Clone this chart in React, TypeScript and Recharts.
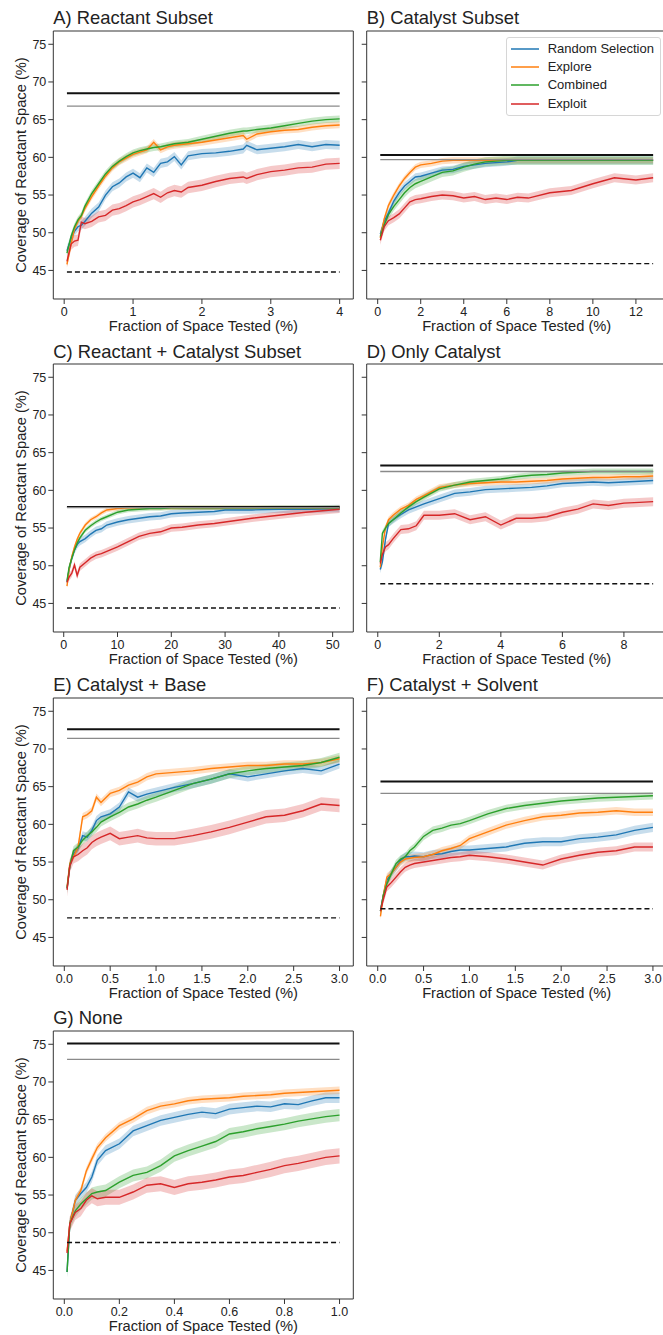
import React from "react";
import {
  ComposedChart,
  Line,
  Area,
  XAxis,
  YAxis,
  ReferenceLine,
  ReferenceArea,
  Legend,
} from "recharts";

const FONT = '"Liberation Sans", Arial, Helvetica, sans-serif';
const TEXT = "#222";

const seriesNames = ["Random Selection", "Explore", "Combined", "Exploit"];
const seriesColors = ["#1f77b4", "#ff7f0e", "#2ca02c", "#d62728"];

const yTicks = [45, 50, 55, 60, 65, 70, 75];
const yDomain: [number, number] = [41.21, 76.76];

// A) Reactant Subset
const xA = [0.04, 0.1, 0.15, 0.2, 0.25, 0.3, 0.4, 0.5, 0.6, 0.7, 0.8, 0.9, 1.0, 1.1, 1.2, 1.3, 1.4, 1.5, 1.6, 1.7, 1.8, 2.0, 2.2, 2.4, 2.6, 2.65, 2.8, 3.0, 3.2, 3.4, 3.6, 3.8, 4.0];
const randomA = [47.6, 49.2, 50.2, 50.8, 51.0, 51.5, 52.6, 53.4, 55.0, 56.1, 56.6, 57.4, 57.9, 57.3, 58.6, 58.0, 59.2, 59.4, 60.1, 59.0, 60.2, 60.5, 60.6, 60.8, 61.1, 61.6, 61.0, 61.2, 61.4, 61.7, 61.4, 61.7, 61.6];
const exploreA = [45.8, 48.5, 50.5, 51.5, 52.2, 53.2, 54.8, 56.2, 57.5, 58.6, 59.4, 59.9, 60.4, 60.7, 61.0, 62.0, 61.0, 61.4, 61.6, 61.7, 61.8, 62.0, 62.3, 62.6, 62.9, 62.4, 63.1, 63.4, 63.6, 63.7, 64.0, 64.2, 64.3];
const combinedA = [47.3, 49.5, 50.8, 51.7, 52.3, 53.5, 55.2, 56.5, 57.8, 58.8, 59.5, 60.1, 60.6, 60.9, 61.1, 61.3, 61.4, 61.6, 61.8, 61.9, 62.0, 62.4, 62.8, 63.2, 63.5, 63.5, 63.7, 63.9, 64.2, 64.5, 64.8, 65.0, 65.1];
const exploitA = [46.2, 48.5, 48.9, 49.0, 51.4, 51.2, 51.5, 52.1, 52.3, 53.0, 53.2, 53.6, 54.1, 54.4, 54.8, 55.2, 54.7, 55.3, 55.6, 55.4, 56.0, 56.3, 56.8, 57.2, 57.4, 57.2, 57.7, 58.1, 58.3, 58.6, 58.7, 59.1, 59.2];
const bandA = [0.6, 0.45, 0.45, 0.75];
const refA = [68.5, 66.8, 44.8];

// B) Catalyst Subset
const xB = [0.12, 0.3, 0.5, 0.75, 1, 1.25, 1.5, 1.75, 2, 2.5, 3, 3.5, 4, 4.5, 5, 5.5, 6, 6.5, 7, 8, 9, 10, 11, 12, 12.8];
const randomB = [49.8, 51.5, 52.6, 54.2, 55.3, 56.2, 56.8, 57.4, 57.5, 57.9, 58.3, 58.4, 58.8, 59.0, 59.2, 59.3, 59.4, 59.6, 59.6, 59.6, 59.6, 59.6, 59.6, 59.6, 59.6];
const exploreB = [49.3, 51.8, 53.6, 55.0, 56.2, 57.2, 58.0, 58.7, 59.0, 59.2, 59.5, 59.6, 59.6, 59.6, 59.6, 59.6, 59.6, 59.6, 59.6, 59.6, 59.6, 59.6, 59.6, 59.6, 59.6];
const combinedB = [49.5, 51.0, 52.4, 53.5, 54.4, 55.3, 56.0, 56.5, 56.8, 57.4, 58.0, 58.2, 58.7, 59.1, 59.4, 59.5, 59.6, 59.6, 59.6, 59.6, 59.6, 59.6, 59.6, 59.6, 59.6];
const exploitB = [49.0, 50.8, 51.6, 52.0, 52.5, 53.3, 54.1, 54.4, 54.5, 54.8, 55.0, 54.9, 54.6, 54.8, 54.4, 54.6, 54.4, 54.7, 54.6, 55.3, 55.6, 56.5, 57.3, 57.0, 57.3];
const bandB = [0.5, 0.4, 0.6, 0.6];
const refB = [60.3, 59.7, 45.9];

// C) Reactant + Catalyst Subset
const xC = [0.6, 1, 1.5, 2, 2.5, 3, 4, 5, 6, 7, 8, 10, 12, 14, 16, 18, 20, 22, 25, 28, 30, 35, 40, 45, 51.3];
const randomC = [47.8, 49.5, 51.0, 52.1, 52.8, 53.2, 53.6, 54.2, 54.7, 54.9, 55.4, 55.8, 56.1, 56.3, 56.5, 56.6, 56.9, 57.0, 57.1, 57.2, 57.4, 57.4, 57.5, 57.5, 57.6];
const exploreC = [47.3, 49.5, 51.2, 52.5, 53.5, 54.3, 55.4, 56.1, 56.5, 57.0, 57.4, 57.6, 57.7, 57.7, 57.7, 57.7, 57.7, 57.7, 57.7, 57.7, 57.7, 57.7, 57.7, 57.7, 57.7];
const combinedC = [48.0, 49.8, 51.0, 52.1, 53.0, 53.7, 54.7, 55.3, 55.8, 56.2, 56.5, 57.1, 57.4, 57.5, 57.6, 57.6, 57.7, 57.7, 57.7, 57.7, 57.7, 57.7, 57.7, 57.7, 57.7];
const exploitC = [47.8, 48.5, 49.0, 50.1, 48.7, 49.8, 50.4, 51.0, 51.4, 51.6, 51.9, 52.5, 53.2, 53.9, 54.3, 54.5, 55.0, 55.1, 55.4, 55.6, 55.8, 56.3, 56.7, 57.1, 57.5];
const bandC = [0.5, 0.3, 0.3, 0.5];
const refC = [57.8, 57.7, 44.4];

// D) Only Catalyst
const xD = [0.08, 0.15, 0.25, 0.35, 0.5, 0.75, 1, 1.25, 1.5, 2, 2.5, 3, 3.5, 4, 4.5, 5, 5.5, 6, 6.5, 7, 7.5, 8, 8.5, 8.95];
const randomD = [49.5, 50.5, 53.5, 55.6, 56.1, 56.8, 57.4, 57.8, 58.2, 58.9, 59.6, 59.8, 60.1, 60.2, 60.3, 60.4, 60.6, 60.9, 61.0, 61.1, 61.0, 61.1, 61.2, 61.3];
const exploreD = [49.8, 52.5, 55.0, 56.1, 56.7, 57.5, 58.0, 58.8, 59.3, 60.4, 60.7, 60.9, 61.0, 61.1, 61.1, 61.2, 61.3, 61.5, 61.6, 61.7, 61.7, 61.8, 61.8, 61.9];
const combinedD = [50.5, 54.3, 55.0, 55.6, 56.1, 57.0, 57.8, 58.5, 59.1, 60.2, 60.7, 61.1, 61.3, 61.5, 61.8, 62.0, 62.1, 62.3, 62.4, 62.5, 62.5, 62.5, 62.5, 62.5];
const exploitD = [50.3, 51.5, 52.5, 52.8, 53.6, 54.8, 54.9, 55.3, 56.7, 56.7, 56.9, 56.1, 56.5, 55.4, 56.3, 56.3, 56.5, 57.1, 57.5, 58.2, 58.0, 58.3, 58.4, 58.5];
const bandD = [0.5, 0.4, 0.4, 0.6];
const refD = [63.3, 62.5, 47.6];

// E) Catalyst + Base
const xE = [0.03, 0.06, 0.1, 0.15, 0.2, 0.25, 0.3, 0.35, 0.4, 0.5, 0.6, 0.7, 0.8, 0.9, 1.0, 1.2, 1.4, 1.6, 1.8, 2.0, 2.2, 2.4, 2.6, 2.8, 3.0];
const randomE = [51.5, 54.5, 56.1, 56.8, 58.5, 58.3, 59.2, 60.5, 61.0, 61.4, 62.3, 64.3, 63.6, 64.0, 64.3, 64.9, 65.4, 66.0, 66.7, 66.3, 66.7, 67.1, 67.4, 67.1, 68.0];
const exploreE = [51.7, 54.8, 55.7, 57.0, 61.0, 61.3, 61.8, 63.6, 62.9, 64.1, 64.5, 65.2, 65.6, 66.3, 66.7, 66.9, 67.1, 67.4, 67.6, 67.8, 67.8, 68.0, 68.0, 68.2, 68.7];
const combinedE = [51.5, 54.5, 56.5, 57.0, 57.9, 58.5, 59.0, 59.6, 60.3, 61.0, 61.6, 62.3, 62.7, 63.2, 63.6, 64.5, 65.4, 66.0, 66.7, 67.1, 67.4, 67.6, 67.8, 68.2, 68.9];
const exploitE = [51.3, 54.5, 55.7, 56.0, 56.5, 56.9, 57.6, 58.0, 58.3, 58.8, 58.1, 58.3, 58.5, 58.2, 58.1, 58.1, 58.5, 59.0, 59.6, 60.3, 61.0, 61.2, 61.8, 62.7, 62.5];
const bandE = [0.6, 0.5, 0.6, 0.9];
const refE = [72.6, 71.4, 47.6];

// F) Catalyst + Solvent
const xF = [0.03, 0.06, 0.1, 0.15, 0.2, 0.25, 0.3, 0.35, 0.4, 0.5, 0.6, 0.7, 0.8, 0.9, 1.0, 1.2, 1.4, 1.6, 1.8, 2.0, 2.2, 2.4, 2.6, 2.8, 3.0];
const randomF = [48.5, 50.5, 52.6, 53.5, 54.3, 55.2, 55.7, 55.7, 55.8, 55.7, 56.0, 56.1, 56.4, 56.6, 56.6, 56.8, 57.0, 57.5, 57.7, 57.7, 58.1, 58.3, 58.6, 59.2, 59.6];
const exploreF = [47.8, 50.5, 53.0, 53.5, 54.3, 55.0, 55.4, 55.5, 55.6, 55.7, 56.0, 56.5, 56.8, 57.2, 58.1, 59.0, 59.9, 60.5, 61.0, 61.2, 61.5, 61.6, 61.8, 61.6, 61.6];
const combinedF = [48.5, 50.5, 52.1, 53.5, 54.8, 55.4, 55.7, 56.5, 57.0, 58.4, 59.2, 59.5, 59.9, 60.1, 60.5, 61.4, 62.1, 62.5, 62.8, 63.1, 63.3, 63.5, 63.6, 63.7, 63.8];
const exploitF = [48.5, 50.0, 51.7, 52.3, 53.0, 53.7, 54.3, 54.6, 54.8, 55.0, 55.2, 55.4, 55.6, 55.7, 55.9, 55.7, 55.4, 55.0, 54.6, 55.4, 55.9, 56.3, 56.5, 57.0, 57.0];
const bandF = [0.6, 0.5, 0.5, 0.6];
const refF = [65.7, 64.1, 48.8];

// G) None
const xG = [0.01, 0.02, 0.04, 0.06, 0.08, 0.1, 0.12, 0.15, 0.2, 0.25, 0.3, 0.35, 0.4, 0.45, 0.5, 0.55, 0.6, 0.65, 0.7, 0.75, 0.8, 0.85, 0.9, 0.95, 1.0];
const randomG = [44.8, 51.2, 54.3, 55.2, 56.0, 57.4, 59.6, 60.9, 61.8, 63.5, 64.2, 64.9, 65.3, 65.7, 66.0, 65.8, 66.4, 66.6, 66.8, 66.7, 67.1, 67.0, 67.5, 67.9, 67.9];
const exploreG = [47.5, 51.2, 54.3, 55.6, 58.2, 59.8, 61.3, 62.6, 64.2, 65.1, 66.2, 66.8, 67.1, 67.5, 67.7, 67.8, 67.9, 68.1, 68.2, 68.3, 68.5, 68.6, 68.7, 68.8, 68.9];
const combinedG = [44.8, 51.2, 52.9, 53.8, 54.5, 55.2, 55.4, 55.6, 56.7, 57.6, 58.0, 58.9, 60.2, 60.9, 61.5, 62.1, 63.1, 63.4, 63.8, 64.1, 64.4, 64.8, 65.1, 65.4, 65.6];
const exploitG = [47.3, 51.2, 52.7, 53.2, 54.3, 54.9, 54.5, 54.7, 54.7, 55.4, 56.3, 56.5, 56.0, 56.5, 56.7, 57.0, 57.4, 57.6, 58.0, 58.4, 58.9, 59.2, 59.6, 60.0, 60.2];
const bandG = [0.7, 0.5, 0.8, 1.0];
const refG = [75.1, 73.0, 48.7];

type Panel = {
  title: string;
  col: number;
  row: number;
  x: number[];
  series: number[][];
  bands: number[];
  refs: number[];
  domain: [number, number];
  ticks: number[];
  decimals: number;
  legend?: boolean;
};

const panels: Panel[] = [
  { title: "A) Reactant Subset", col: 0, row: 0, x: xA, series: [randomA, exploreA, combinedA, exploitA], bands: bandA, refs: refA, domain: [-0.158, 4.198], ticks: [0, 1, 2, 3, 4], decimals: 0 },
  { title: "B) Catalyst Subset", col: 1, row: 0, x: xB, series: [randomB, exploreB, combinedB, exploitB], bands: bandB, refs: refB, domain: [-0.51, 13.43], ticks: [0, 2, 4, 6, 8, 10, 12], decimals: 0, legend: true },
  { title: "C) Reactant + Catalyst Subset", col: 0, row: 1, x: xC, series: [randomC, exploreC, combinedC, exploitC], bands: bandC, refs: refC, domain: [-1.94, 53.84], ticks: [0, 10, 20, 30, 40, 50], decimals: 0 },
  { title: "D) Only Catalyst", col: 1, row: 1, x: xD, series: [randomD, exploreD, combinedD, exploitD], bands: bandD, refs: refD, domain: [-0.36, 9.39], ticks: [0, 2, 4, 6, 8], decimals: 0 },
  { title: "E) Catalyst + Base", col: 0, row: 2, x: xE, series: [randomE, exploreE, combinedE, exploitE], bands: bandE, refs: refE, domain: [-0.12, 3.15], ticks: [0, 0.5, 1, 1.5, 2, 2.5, 3], decimals: 1 },
  { title: "F) Catalyst + Solvent", col: 1, row: 2, x: xF, series: [randomF, exploreF, combinedF, exploitF], bands: bandF, refs: refF, domain: [-0.12, 3.15], ticks: [0, 0.5, 1, 1.5, 2, 2.5, 3], decimals: 1 },
  { title: "G) None", col: 0, row: 3, x: xG, series: [randomG, exploreG, combinedG, exploitG], bands: bandG, refs: refG, domain: [-0.04, 1.05], ticks: [0, 0.2, 0.4, 0.6, 0.8, 1.0], decimals: 1 },
];

const ROW_PITCH = 333.33;
const PLOT_W = 300;
const PLOT_TOP = 31;
const PLOT_H = 268;
const XAXIS_H = 36;
const CHART_H = PLOT_TOP + PLOT_H + XAXIS_H;

const LegendBox = () => (
  <div
    style={{
      position: "relative",
      width: 155,
      height: 79,
      boxSizing: "border-box",
      border: "1px solid #d6d6d6",
      borderRadius: 3,
      background: "rgba(255,255,255,0.85)",
      fontFamily: FONT,
      fontSize: 13,
      color: TEXT,
    }}
  >
    {seriesNames.map((name, i) => (
      <div key={name} style={{ position: "absolute", left: 0, top: 1.4 + i * 18.3, height: 18, width: "100%" }}>
        <svg width={34} height={18} style={{ position: "absolute", left: 2, top: 0 }}>
          <line x1={2} x2={30} y1={9} y2={9} stroke={seriesColors[i]} strokeWidth={1.5} />
        </svg>
        <div style={{ position: "absolute", left: 41, top: 0, lineHeight: "18px", whiteSpace: "nowrap" }}>{name}</div>
      </div>
    ))}
  </div>
);

const PanelChart = ({ p }: { p: Panel }) => {
  const left = p.col === 0 ? 0 : 350;
  const yAxisW = p.col === 0 ? 53.3 : 16.7;
  const top = p.row * ROW_PITCH;
  const width = yAxisW + PLOT_W + 6;
  const rows = p.x.map((x, i) => {
    const r: Record<string, any> = { x };
    p.series.forEach((s, k) => {
      r[`s${k}`] = s[i];
      r[`b${k}`] = [s[i] - p.bands[k], s[i] + p.bands[k]];
    });
    return r;
  });
  const x0 = p.x[0];
  const x1 = p.x[p.x.length - 1];
  const fmt = (v: number) => v.toFixed(p.decimals);

  return (
    <>
      <div
        style={{
          position: "absolute",
          left: left + yAxisW,
          top: top + 9.4,
          fontFamily: FONT,
          fontSize: 18.4,
          lineHeight: "18.4px",
          color: TEXT,
          whiteSpace: "nowrap",
        }}
      >
        {p.title}
      </div>
      <div style={{ position: "absolute", left, top }}>
        <ComposedChart
          width={width}
          height={CHART_H}
          data={rows}
          margin={{ top: PLOT_TOP, right: 6, bottom: 0, left: 0 }}
          style={{ fontFamily: FONT }}
        >
          <XAxis
            type="number"
            dataKey="x"
            domain={p.domain}
            ticks={p.ticks}
            allowDataOverflow
            tickFormatter={fmt}
            height={XAXIS_H}
            axisLine={false}
            tickSize={5}
            tickMargin={3}
            tickLine={{ stroke: "#333" }}
            tick={{ fontSize: 12.5, fill: TEXT }}
            label={{
              value: "Fraction of Space Tested (%)",
              position: "insideBottom",
              offset: 4,
              style: { fontSize: 14.7, fill: TEXT },
            }}
          />
          <YAxis
            type="number"
            domain={yDomain}
            ticks={yTicks}
            allowDataOverflow
            width={yAxisW}
            axisLine={false}
            tickSize={5}
            tickMargin={2}
            tickLine={{ stroke: "#333" }}
            tickFormatter={p.col === 0 ? (v: number) => String(v) : () => ""}
            tick={{ fontSize: 12.5, fill: TEXT }}
            label={
              p.col === 0
                ? {
                    value: "Coverage of Reactant Space (%)",
                    angle: -90,
                    position: "insideLeft",
                    offset: 21,
                    style: { fontSize: 14.7, fill: TEXT, textAnchor: "middle" },
                  }
                : undefined
            }
          />
          {p.series.map((_, k) => (
            <Area
              key={`band${k}`}
              type="linear"
              dataKey={`b${k}`}
              stroke="none"
              fill={seriesColors[k]}
              fillOpacity={0.25}
              isAnimationActive={false}
              activeDot={false}
            />
          ))}
          {p.series.map((_, k) => (
            <Line
              key={`line${k}`}
              type="linear"
              dataKey={`s${k}`}
              stroke={seriesColors[k]}
              strokeWidth={1.4}
              dot={false}
              activeDot={false}
              isAnimationActive={false}
            />
          ))}
          <ReferenceLine segment={[{ x: x0, y: p.refs[0] }, { x: x1, y: p.refs[0] }]} stroke="#111" strokeWidth={2} />
          <ReferenceLine segment={[{ x: x0, y: p.refs[1] }, { x: x1, y: p.refs[1] }]} stroke="#8a8a8a" strokeWidth={1.3} />
          <ReferenceLine segment={[{ x: x0, y: p.refs[2] }, { x: x1, y: p.refs[2] }]} stroke="#111" strokeWidth={1.4} strokeDasharray="5 3" />
          <ReferenceArea
            x1={p.domain[0]}
            x2={p.domain[1]}
            y1={yDomain[0]}
            y2={yDomain[1]}
            fill="none"
            stroke="#333"
            strokeWidth={1}
            ifOverflow="visible"
          />
          {p.legend && (
            <Legend
              layout="vertical"
              align="center"
              verticalAlign="middle"
              wrapperStyle={{ left: 155.7, top: 37.3, width: 155, height: 79 }}
              content={() => <LegendBox />}
            />
          )}
        </ComposedChart>
      </div>
    </>
  );
};

export default function App() {
  return (
    <div
      style={{
        position: "absolute",
        left: 0,
        top: 0,
        width: 663,
        height: 1335,
        overflow: "hidden",
        background: "#fff",
      }}
    >
      {panels.map((p) => (
        <PanelChart key={p.title} p={p} />
      ))}
    </div>
  );
}
